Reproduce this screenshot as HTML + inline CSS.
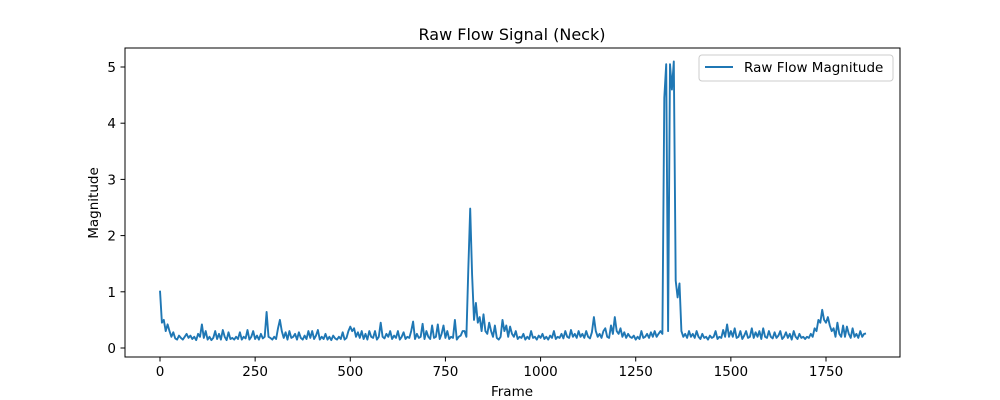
<!DOCTYPE html>
<html><head><meta charset="utf-8"><style>
body{margin:0;background:#fff;}
svg{display:block;font-family:"DejaVu Sans","Liberation Sans",sans-serif;}
</style></head><body>
<svg id="chart" width="1000" height="400">
<text x="512" y="40" text-anchor="middle" font-size="16">Raw Flow Signal (Neck)</text>
<text x="512" y="396" text-anchor="middle" font-size="13.5">Frame</text>
<text transform="translate(98,203) rotate(-90)" text-anchor="middle" font-size="13.5">Magnitude</text>
<g id="ticks"></g>
<path id="line" fill="none" stroke="#1f77b4" stroke-width="1.9" stroke-linejoin="round"/>
<rect x="125" y="48" width="775" height="309" fill="none" stroke="#000" stroke-width="1"/>
<g>
<rect x="699" y="55" width="194" height="26" rx="3" fill="#fff" stroke="#ccc"/>
<line x1="705" y1="67" x2="733" y2="67" stroke="#1f77b4" stroke-width="1.9"/>
<text x="744" y="72" font-size="13.5">Raw Flow Magnitude</text>
</g>
</svg>
<script>
const step = 5;
const values = [
1.02,0.45,0.5,0.3,0.42,0.3,0.2,0.28,0.17,0.15,0.22,0.18,0.15,0.2,0.25,0.18,0.22,0.16,0.2,0.14,
0.25,0.2,0.42,0.18,0.3,0.15,0.2,0.14,0.18,0.3,0.16,0.25,0.15,0.32,0.2,0.14,0.28,0.16,0.18,0.15,
0.2,0.16,0.28,0.15,0.2,0.17,0.32,0.15,0.2,0.3,0.16,0.22,0.15,0.25,0.17,0.2,0.64,0.2,0.18,0.15,
0.2,0.16,0.35,0.5,0.3,0.18,0.28,0.15,0.3,0.18,0.2,0.25,0.15,0.28,0.18,0.15,0.22,0.16,0.3,0.18,
0.3,0.16,0.22,0.32,0.15,0.2,0.16,0.25,0.15,0.2,0.14,0.22,0.17,0.15,0.2,0.16,0.28,0.15,0.18,0.3,
0.38,0.3,0.35,0.2,0.28,0.18,0.3,0.16,0.25,0.15,0.3,0.2,0.18,0.3,0.15,0.2,0.45,0.2,0.17,0.25,
0.2,0.3,0.16,0.22,0.18,0.3,0.15,0.2,0.28,0.16,0.2,0.18,0.3,0.47,0.16,0.25,0.18,0.2,0.43,0.16,
0.3,0.2,0.16,0.4,0.18,0.2,0.42,0.16,0.25,0.4,0.18,0.3,0.16,0.2,0.18,0.5,0.15,0.2,0.22,0.3,
0.3,0.2,1.4,2.48,1.3,0.5,0.8,0.45,0.55,0.3,0.6,0.3,0.25,0.45,0.3,0.2,0.4,0.18,0.15,0.2,
0.5,0.3,0.4,0.2,0.38,0.25,0.2,0.3,0.16,0.2,0.18,0.25,0.15,0.2,0.16,0.3,0.18,0.2,0.15,0.22,
0.18,0.25,0.16,0.2,0.15,0.22,0.18,0.3,0.16,0.2,0.18,0.25,0.17,0.3,0.2,0.18,0.32,0.2,0.25,0.18,
0.3,0.2,0.25,0.18,0.3,0.2,0.17,0.28,0.55,0.3,0.2,0.25,0.18,0.3,0.35,0.2,0.18,0.4,0.25,0.55,
0.3,0.25,0.35,0.2,0.28,0.18,0.25,0.2,0.18,0.22,0.15,0.2,0.16,0.3,0.18,0.2,0.25,0.18,0.28,0.2,
0.3,0.2,0.25,0.3,0.25,4.45,5.05,0.3,5.05,4.6,5.1,1.2,0.9,1.15,0.3,0.2,0.25,0.18,0.3,0.2,
0.25,0.18,0.3,0.2,0.16,0.25,0.18,0.2,0.15,0.22,0.18,0.2,0.3,0.16,0.2,0.18,0.32,0.2,0.42,0.2,
0.3,0.2,0.35,0.18,0.2,0.3,0.16,0.22,0.3,0.18,0.2,0.35,0.18,0.28,0.2,0.3,0.16,0.35,0.2,0.18,
0.3,0.2,0.17,0.28,0.18,0.22,0.3,0.16,0.2,0.28,0.18,0.25,0.15,0.3,0.2,0.16,0.25,0.18,0.2,0.16,
0.2,0.18,0.25,0.2,0.35,0.3,0.5,0.45,0.68,0.5,0.45,0.55,0.4,0.3,0.35,0.2,0.45,0.25,0.2,0.4,
0.2,0.38,0.25,0.18,0.35,0.2,0.25,0.18,0.3,0.2,0.25,0.26
];
const xTicks = [0,250,500,750,1000,1250,1500,1750];
const yTicks = [0,1,2,3,4,5];

const X = f => 160 + f * (826 - 160) / 1750;
const Y = v => 348 - v * (348 - 67) / 5;

let d = '';
values.forEach((v, i) => { d += (i ? 'L' : 'M') + X(i * step).toFixed(1) + ',' + Y(v).toFixed(1); });
document.getElementById('line').setAttribute('d', d);

const g = document.getElementById('ticks');
const NS = 'http://www.w3.org/2000/svg';
xTicks.forEach(t => {
  const l = document.createElementNS(NS, 'line');
  l.setAttribute('x1', X(t)); l.setAttribute('x2', X(t));
  l.setAttribute('y1', 357); l.setAttribute('y2', 361.5);
  l.setAttribute('stroke', '#000');
  
  
  g.appendChild(l);
  const tx = document.createElementNS(NS, 'text');
  tx.setAttribute('x', X(t)); tx.setAttribute('y', 376);
  tx.setAttribute('text-anchor', 'middle'); tx.setAttribute('font-size', '13.5');
  tx.textContent = t;
  
  
  g.appendChild(tx);
});
yTicks.forEach(t => {
  const l = document.createElementNS(NS, 'line');
  l.setAttribute('x1', 120.5); l.setAttribute('x2', 125);
  l.setAttribute('y1', Y(t)); l.setAttribute('y2', Y(t));
  l.setAttribute('stroke', '#000');
  
  
  g.appendChild(l);
  const tx = document.createElementNS(NS, 'text');
  tx.setAttribute('x', 116); tx.setAttribute('y', Y(t) + 5);
  tx.setAttribute('text-anchor', 'end'); tx.setAttribute('font-size', '13.5');
  tx.textContent = t;
  
  
  g.appendChild(tx);
});
</script>
</body></html>
